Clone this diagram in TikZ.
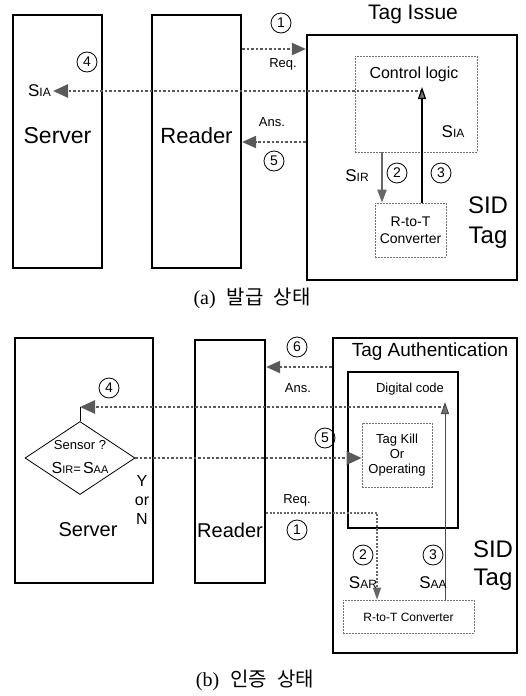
\documentclass[tikz,border=0pt]{standalone}
\usepackage{fontspec}
\setmainfont{Liberation Sans}
\newfontfamily\capserif{Liberation Serif}
\newfontfamily\krfont{Noto Sans CJK KR}
\usetikzlibrary{arrows.meta,shapes.geometric,calc}
\newcommand\fsz[1]{\fontsize{#1}{#1}\selectfont}
% signal name: large S followed by a smaller suffix
\newcommand\sig[3]{{\fsz{#1}S}{\fsz{#2}#3}}
\tikzset{
  bigbox/.style={draw, line width=2.2pt, inner sep=0pt},
  innerbox/.style={draw, line width=1.1pt, inner sep=0pt},
  dashbox/.style={draw=black!55, line width=0.6pt, dash pattern=on 2pt off 1pt, inner sep=0pt},
  num/.style={circle, draw, line width=0.8pt, inner sep=0pt, minimum size=20pt, font=\fsz{14}},
  lbl/.style={inner sep=0pt},
  dotarrow/.style={draw=black!65, line width=2.6pt, dash pattern=on 2.5pt off 2pt,
    -{Triangle[length=15pt,width=13pt]}},
  reqarrow/.style={draw=black!65, line width=2pt, dash pattern=on 2.5pt off 2pt,
    -{Triangle[length=14pt,width=12pt]}},
  thindot/.style={draw=black!60, line width=1.4pt, dash pattern=on 2pt off 1.5pt},
  solidarrow/.style={draw=black!60, line width=2.2pt, -{Triangle[length=13pt,width=9pt]}},
  thinarrow/.style={draw=black, line width=1.2pt, -{Triangle[length=12pt,width=8pt,fill=black!55]}},
}
\begin{document}
\begin{tikzpicture}[x=1pt, y=-1pt]
\useasboundingbox (0,0) rectangle (525,696);

% ---------- (a) tag issue ----------
\node[bigbox, minimum width=89pt, minimum height=253pt] (srvA) at (57.5,141.5) {};
\node[bigbox, minimum width=89pt, minimum height=253pt] (rdrA) at (196.5,141.5) {};
\node[bigbox, minimum width=210pt, minimum height=245pt] (tagA) at (412,157.5) {};
\node[dashbox, minimum width=122pt, minimum height=96pt] (ctlA) at (416,104) {};
\node[dashbox, minimum width=71pt, minimum height=54pt] (cnvA) at (410.5,230) {};

\node[lbl, font=\fsz{21}] (titA) at (413,14) {Tag Issue};
\node[lbl, font=\fsz{23}] (srvAt) at (57.5,136) {Server};
\node[lbl, font=\fsz{22}] (rdrAt) at (196.5,136) {Reader};
\node[lbl, font=\fsz{16}] (ctlAt) at (414,74) {Control logic};
\node[lbl] (siaIn) at (453,132) {\sig{17pt}{12pt}{IA}};
\node[lbl, font=\fsz{14}, align=center] (cnvAt) at (410.5,230) {R-to-T\\[3pt]Converter};
\node[lbl, font=\fsz{24}, align=center] (sidA) at (488,223) {SID\\[6pt]Tag};

\node[lbl, anchor=east] (siaOut) at (51,91) {\sig{17pt}{12pt}{IA}};
\coordinate (j4a) at (422,91);
\coordinate (e4a) at (53,91);
\draw[dotarrow] (j4a) -- (e4a);
\node[num] (n4a) at (87,62) {4};

% request and answer between reader and tag
\coordinate (reqA) at (0,49);
\draw[reqarrow] (rdrA.east |- reqA) -- (tagA.west |- reqA);
\node[num] (n1a) at (281,23) {1};
\node[lbl, font=\fsz{13}] (reqAt) at (283,64) {Req.};
\coordinate (ansA) at (0,142);
\draw[reqarrow] (tagA.west |- ansA) -- (rdrA.east |- ansA);
\node[lbl, font=\fsz{13}] (ansAt) at (272,122) {Ans.};
\node[num] (n5a) at (274,161) {5};

% converter links
\coordinate (x2a) at (382,0);
\draw[solidarrow] (ctlA.south -| x2a) -- (cnvA.north -| x2a);
\draw[thinarrow] (cnvA.north -| j4a) -- ([yshift=4pt]j4a);
\node[lbl] (sirA) at (357,176) {\sig{17pt}{12pt}{IR}};
\node[num] (n2a) at (397,173) {2};
\node[num] (n3a) at (441,173) {3};

\node[lbl, font=\fsz{20}] (capA) at (252,298) {{\capserif (a)}\; {\krfont 발급\; 상태}};

% ---------- (b) tag authentication ----------
\node[bigbox, minimum width=138pt, minimum height=245pt] (srvB) at (84,460.5) {};
\node[bigbox, minimum width=70pt, minimum height=243pt] (rdrB) at (230,461.5) {};
\node[bigbox, minimum width=184pt, minimum height=315pt] (tagB) at (425,495.5) {};
\node[innerbox, minimum width=110pt, minimum height=156pt] (innB) at (403,450) {};
\node[dashbox, minimum width=70pt, minimum height=64pt] (killB) at (397,455) {};
\node[dashbox, minimum width=131pt, minimum height=33pt] (cnvB) at (408.5,616.5) {};
\node[diamond, draw, line width=0.8pt, minimum width=110pt, minimum height=73pt, inner sep=0pt] (decB) at (80,458) {};

\node[lbl, font=\fsz{19}] (titB) at (430,352) {Tag Authentication};
\node[lbl, font=\fsz{20}] (srvBt) at (88,530) {Server};
\node[lbl, font=\fsz{20}] (rdrBt) at (230,530) {Reader};
\node[lbl, font=\fsz{13}] (digB) at (410,389) {Digital code};
\node[lbl, font=\fsz{13}, align=center] (killBt) at (397,455) {Tag Kill\\[2pt]Or\\[2pt]Operating};
\node[lbl, font=\fsz{12}] (cnvBt) at (408.5,617) {R-to-T Converter};
\node[lbl, font=\fsz{13}] (sensB) at (80,445) {Sensor ?};
\node[lbl] (eqB) at (80,468) {\sig{16pt}{11pt}{IR}{\fsz{13}=\,}\sig{16pt}{11pt}{AA}};
\node[lbl, font=\fsz{16}, align=center] (ynB) at (142,500) {Y\\[3pt]or\\[3pt]N};
\node[lbl, font=\fsz{24}, align=center] (sidB) at (493,566) {SID\\[4pt]Tag};

% answer from tag to reader
\coordinate (ansB) at (0,367);
\draw[reqarrow] (tagB.west |- ansB) -- (rdrB.east |- ansB);
\node[num] (n6b) at (297,347) {6};
\node[lbl, font=\fsz{13}] (ansBt) at (298,388) {Ans.};

% result back to the server
\coordinate (j4b) at (445,407);
\coordinate (e4b) at (80,407);
\draw[dotarrow] (j4b) -- (e4b);
\draw[line width=0.8pt] (decB.north) -- (e4b);
\node[num] (n4b) at (109,388) {4};

% decision sent to the tag
\draw[dotarrow] (decB.east) -- (killB.west |- decB.east);
\node[num] (n5b) at (325,438) {5};

% request down to the converter
\coordinate (reqB) at (377,513);
\draw[thindot] (rdrB.east |- reqB) -- (reqB) -- (innB.south -| reqB);
\draw[thindot, -{Triangle[length=12pt,width=8pt]}] (innB.south -| reqB) -- (cnvB.north -| reqB);
\node[lbl, font=\fsz{13}] (reqBt) at (297,500) {Req.};
\node[num] (n1b) at (297,530) {1};

% converter output up to the digital code
\draw[thinarrow, draw=black!70, line width=1pt] (cnvB.north -| j4b) -- ([yshift=5pt]j4b);
\node[num] (n2b) at (363,555) {2};
\node[lbl] (sarB) at (363,583) {\sig{17pt}{12pt}{AR}};
\node[num] (n3b) at (433,555) {3};
\node[lbl] (saaB) at (433,583) {\sig{17pt}{12pt}{AA}};

\node[lbl, font=\fsz{20}] (capB) at (255,680) {{\capserif (b)}\; {\krfont 인증\; 상태}};
\end{tikzpicture}
\end{document}
